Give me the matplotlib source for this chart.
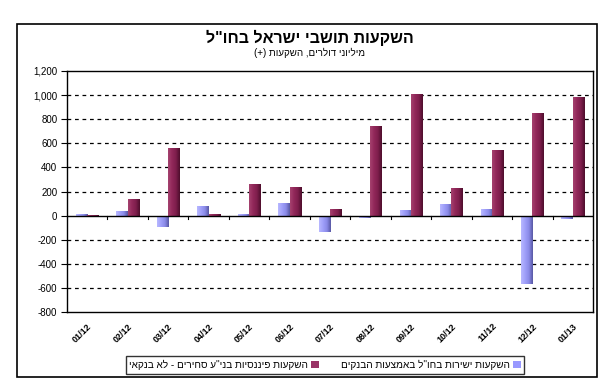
import matplotlib
matplotlib.use("Agg")
import matplotlib.pyplot as plt
import numpy as np
from matplotlib.patches import Rectangle
from matplotlib.colors import LinearSegmentedColormap

categories = ["01/12", "02/12", "03/12", "04/12", "05/12", "06/12", "07/12",
              "08/12", "09/12", "10/12", "11/12", "12/12", "01/13"]
direct_banks = [10, 40, -94, 77, 10, 104, -136, -20, 44, 99, 52, -565, -25]
portfolio_nonbank = [8, 140, 565, 15, 265, 237, 52, 741, 1008, 231, 548, 851, 988]

title = 'השקעות תושבי ישראל בחו"ל'
subtitle = "מיליוני דולרים, השקעות (+)"
label_blue = 'השקעות ישירות בחו"ל באמצעות הבנקים'
label_maroon = 'השקעות פיננסיות בני"ע סחירים - לא בנקאי'
yticks = [-800, -600, -400, -200, 0, 200, 400, 600, 800, 1000, 1200]


def vis(s):
    # visual order for right-to-left text
    mirror = {"(": ")", ")": "("}
    return "".join(mirror.get(c, c) for c in reversed(s))


FONT = "Liberation Sans"
plt.rcParams["font.family"] = [FONT, "DejaVu Sans"]

fig = plt.figure(figsize=(6.10, 3.92), dpi=100)
fig.patch.set_facecolor("white")

# outer border
fig.add_artist(Rectangle((17 / 610, 15 / 392), (597 - 17) / 610, (377 - 24) / 392,
                         transform=fig.transFigure, fill=False, edgecolor="black", lw=1.2))

ax = fig.add_axes([67 / 610, 80 / 392, (593 - 67) / 610, (312 - 71) / 392])
ax.set_xlim(0, len(categories))
ax.set_ylim(-800, 1200)

x = np.arange(len(categories)) + 0.5
w = 0.28
blue_bars = ax.bar(x - w / 2, direct_banks, w, color="#9999FF", edgecolor="none", zorder=3,
                   label=vis(label_blue))
maroon_bars = ax.bar(x + w / 2, portfolio_nonbank, w, color="#993366", edgecolor="none", zorder=3,
                     label=vis(label_maroon))

cmap_blue = LinearSegmentedColormap.from_list("b", ["#B8B8FF", "#A0A0FA", "#8A8AE8", "#5858A4"])
cmap_mar = LinearSegmentedColormap.from_list("m", ["#A5426F", "#92285A", "#7E1E4C", "#4E0E2C"])
grad = np.linspace(0, 1, 64).reshape(1, -1)
for bars, cm in ((blue_bars, cmap_blue), (maroon_bars, cmap_mar)):
    for b in bars:
        x0, y0 = b.get_x(), b.get_y()
        bw, bh = b.get_width(), b.get_height()
        if bh == 0:
            continue
        im = ax.imshow(grad, cmap=cm, aspect="auto", extent=(x0, x0 + bw, y0, y0 + bh),
                       zorder=3.5, interpolation="bilinear")
        im.set_clip_path(b)

ax.set_xlim(0, len(categories))
ax.set_ylim(-800, 1200)

# grid
for v in yticks:
    if v in (-800, 1200):
        continue
    if v == 0:
        ax.axhline(0, color="black", lw=1.0, zorder=4)
    else:
        ax.axhline(v, color="black", lw=0.9, ls=(0, (3, 3)), zorder=1)

ax.set_yticks(yticks)
ax.set_yticklabels([f"{v:,}" for v in yticks], fontsize=7)
ax.tick_params(axis="y", direction="out", length=4, width=0.8, pad=3)

ax.set_xticks(x)
ax.set_xticklabels(categories, rotation=45, ha="right", va="top", rotation_mode="anchor",
                   fontsize=6.5, fontweight="bold")
ax.tick_params(axis="x", length=0, pad=7)
# category separator ticks hanging down from the zero line
for xb in np.arange(1, len(categories)):
    ax.plot([xb, xb], [0, -30], color="black", lw=0.8, zorder=4)

for s in ax.spines.values():
    s.set_linewidth(1.0)

fig.text(0.508, 1 - 38 / 392, vis(title), ha="center", va="center", fontsize=11.5,
         fontweight="bold")
fig.text(0.508, 1 - 53 / 392, vis(subtitle), ha="center", va="center", fontsize=7)

leg = fig.legend(handles=[maroon_bars, blue_bars], labels=[vis(label_maroon), vis(label_blue)],
                 loc="center", bbox_to_anchor=(325 / 610, 1 - 365 / 392), ncol=2,
                 markerfirst=False, fontsize=7.2, frameon=True, fancybox=False,
                 edgecolor="black", handlelength=0.8, handleheight=0.8, handletextpad=0.3,
                 columnspacing=2.2, borderpad=0.35)
leg.get_frame().set_linewidth(1.0)

fig.savefig("out.png", dpi=100)
